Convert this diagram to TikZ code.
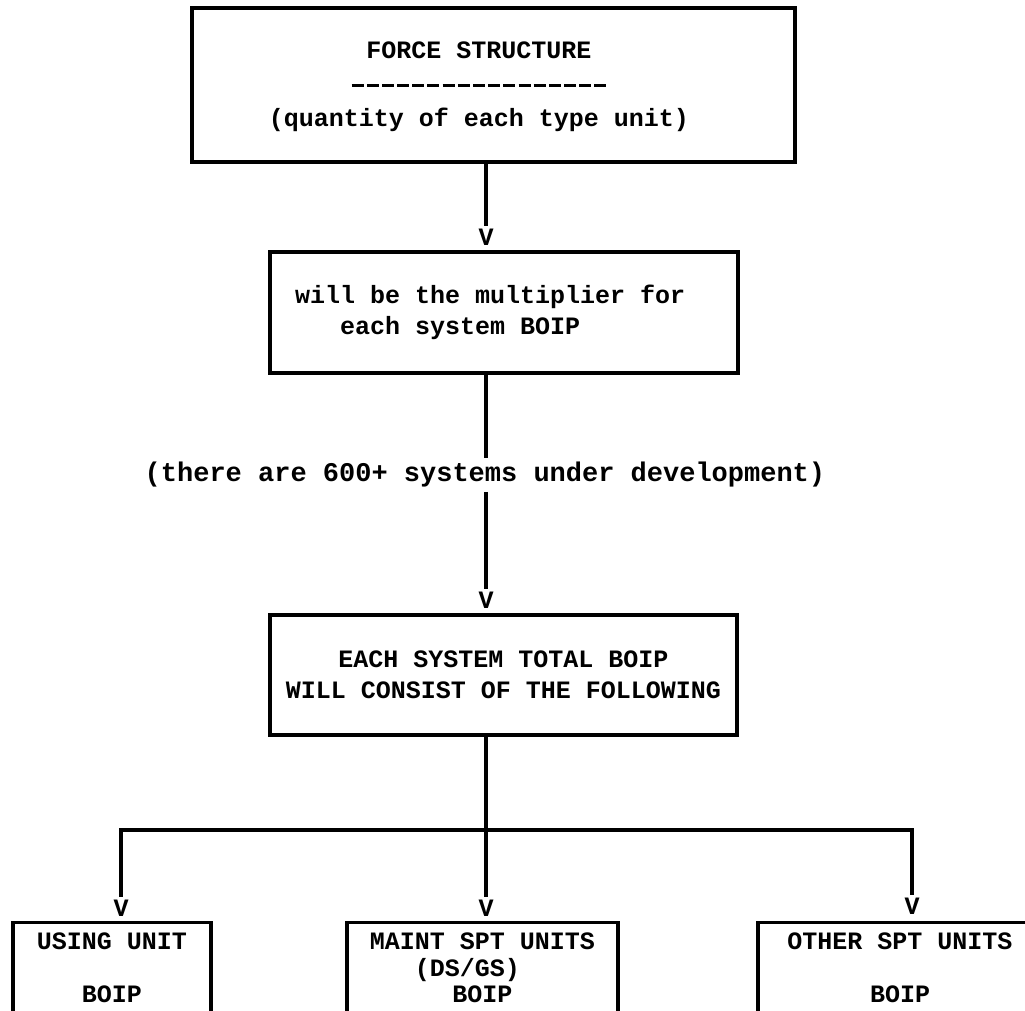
\documentclass[tikz,border=0pt]{standalone}
\usepackage{fontspec}
\setmainfont{Liberation Mono}
% typewritten row of hyphens used as an underline
\newcommand\dashrow{\hbox to 258pt{\xleaders\hbox to 15.1pt{\hss\rule[6pt]{12pt}{2.4pt}\hss}\hfill}}
\begin{document}
\begin{tikzpicture}[x=1pt,y=-1pt,
  tw/.style={font=\fontsize{25}{31}\selectfont\bfseries},
  box/.style={draw, line width=3.2pt, tw, inner sep=0pt},
  boxtext/.style={tw, inner sep=0pt},
  unitbox/.style={box, font=\fontsize{25}{26.5}\selectfont\bfseries, align=center,
                  minimum height=91pt, anchor=north},
  tip/.style={tw, inner sep=3pt},
  link/.style={line width=3.2pt}]
\useasboundingbox (0,0) rectangle (1025,1010);

% main chain
\node[box, minimum width=603pt, minimum height=154pt] (force) at (493.5,85) {};
\node[boxtext, align=center, font=\fontsize{25}{34}\selectfont\bfseries] (forcetext) at (479,87)
  {FORCE STRUCTURE\\\dashrow\\(quantity of each type unit)};
\node[tip] (v1) at (486,237) {V};
\node[box, minimum width=468pt, minimum height=121pt] (mult) at (504,312.5) {};
\node[boxtext, align=left, anchor=west] (multtext) at (295,312.5)
  {will be the multiplier for\\\phantom{xxx}each system BOIP};
\node[tw, inner sep=4pt, font=\fontsize{27}{31}\selectfont\bfseries] (note) at (485,475)
  {(there are 600+ systems under development)};
\node[tip] (v2) at (486,600) {V};
\node[box, align=center, minimum width=467pt, minimum height=120pt] (total) at (503.5,675)
  {EACH SYSTEM TOTAL BOIP\\WILL CONSIST OF THE FOLLOWING};

% branch targets
\node[tip] (va) at (121,908) {V};
\node[tip] (vb) at (486,908) {V};
\node[tip] (vc) at (912,906) {V};
\node[unitbox, minimum width=198pt] (using) at (112,921) {USING UNIT\\\mbox{}\\BOIP};
\node[unitbox, minimum width=271pt] (maint) at (482.5,921) {MAINT SPT UNITS\\(DS/GS)\phantom{xx}\\BOIP};
\node[unitbox, minimum width=284pt] (other) at (900,921) {OTHER SPT UNITS\\\mbox{}\\BOIP};
\coordinate (split) at (486,830);

% connectors
\draw[link] (v1 |- force.south) -- (v1.north);
\draw[link] (v1 |- mult.south) -- (v1 |- note.north);
\draw[link] (v1 |- note.south) -- (v2.north);
\draw[link] (v2 |- total.south) -- (vb.north);
\draw[link] (va.north) -- (va.north |- split) -- (vc.north |- split) -- (vc.north);
\end{tikzpicture}
\end{document}
